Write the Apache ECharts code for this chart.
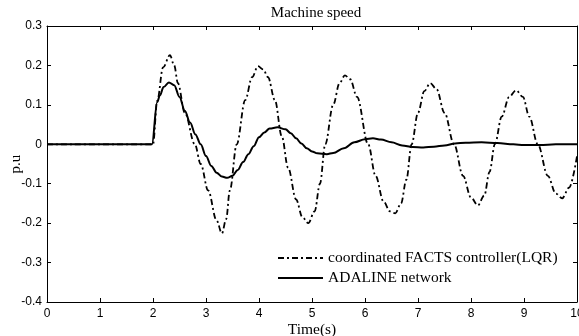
<!DOCTYPE html>
<html>
<head>
<meta charset="utf-8">
<script src="https://cdn.jsdelivr.net/npm/echarts@6/dist/echarts.min.js"></script>
<style>
  html, body { margin: 0; padding: 0; background: #fff; }
  #main { width: 579px; height: 336px; }
</style>
</head>
<body>
<div id="main"></div>
<script>
var titleText = 'Machine speed';
var xName = 'Time(s)';
var yName = 'p.u';
var lqrName = 'coordinated FACTS controller(LQR)';
var adalineName = 'ADALINE network';

// 协调FACTS控制器(LQR) [t, 转速偏差]
var lqrT = [0, 2.0, 2.08, 2.19, 2.32, 2.4, 2.47, 2.6, 2.79, 2.9, 3.04, 3.2, 3.3, 3.38, 3.45, 3.58, 3.74, 3.87, 3.98, 4.08, 4.17, 4.3, 4.43,
  4.55, 4.7, 4.82, 4.93, 5.05, 5.15, 5.25, 5.4, 5.52, 5.62, 5.72, 5.85, 6.06, 6.2, 6.35, 6.47, 6.57, 6.68, 6.78, 6.88, 7.0, 7.12, 7.23, 7.35,
  7.5, 7.68, 7.85, 8.0, 8.13, 8.25, 8.35, 8.45, 8.58, 8.72, 8.85, 8.98, 9.1, 9.26, 9.45, 9.6, 9.72, 9.85, 10.0];
var lqrV = [0, 0, 0.11, 0.195, 0.226, 0.2, 0.155, 0.08, 0, -0.05, -0.117, -0.193, -0.226, -0.19, -0.117, 0, 0.112, 0.17, 0.198, 0.19, 0.17, 0.112, 0.02,
  -0.06, -0.14, -0.185, -0.2, -0.17, -0.1, 0, 0.1, 0.155, 0.175, 0.165, 0.12, 0, -0.08, -0.145, -0.17, -0.175, -0.15, -0.09, 0, 0.08, 0.135, 0.155, 0.14,
  0.08, 0, -0.08, -0.135, -0.155, -0.13, -0.07, 0, 0.07, 0.12, 0.137, 0.12, 0.07, 0, -0.08, -0.125, -0.137, -0.11, -0.03];

// ADALINE网络
var adaT = [0, 1.98, 2.08, 2.13, 2.2, 2.3, 2.4, 2.5, 2.6, 2.7, 2.8, 2.9, 3.0, 3.1, 3.2, 3.3, 3.4, 3.5, 3.6, 3.7, 3.8, 3.9, 4.0, 4.1, 4.2, 4.35,
  4.5, 4.6, 4.7, 4.8, 4.9, 5.0, 5.1, 5.28, 5.4, 5.6, 5.8, 6.0, 6.15, 6.3, 6.5, 6.7, 6.9, 7.1, 7.3, 7.5, 7.7, 7.9, 8.2, 8.5, 8.8, 9.0, 9.3, 9.6, 10.0];
var adaV = [0, 0, 0.107, 0.124, 0.145, 0.157, 0.15, 0.12, 0.085, 0.055, 0.025, 0, -0.03, -0.055, -0.072, -0.082, -0.085, -0.08, -0.065, -0.045, -0.025, -0.005, 0.018, 0.03, 0.04, 0.043,
  0.038, 0.028, 0.015, 0.002, -0.01, -0.018, -0.023, -0.025, -0.022, -0.01, 0.005, 0.013, 0.015, 0.012, 0.005, -0.003, -0.007, -0.008, -0.006, -0.003, 0.002, 0.004, 0.005, 0.003, 0, -0.002, -0.002, 0, 0];

var yTicks = [-0.4, -0.3, -0.2, -0.1, 0, 0.1, 0.2, 0.3];
var xTicks = [0, 1, 2, 3, 4, 5, 6, 7, 8, 9, 10];

function pairs(t, v) {
  var out = [];
  for (var i = 0; i < t.length; i++) out.push([t[i], v[i]]);
  return out;
}

var myChart = echarts.init(document.getElementById('main'));

var serif = '"Liberation Serif", "Times New Roman", serif';
var sans = '"Liberation Sans", Arial, sans-serif';
var axisLine = { show: true, onZero: false, lineStyle: { color: '#000', width: 1 } };
var tickIn = { show: true, inside: true, length: 4, lineStyle: { color: '#000' } };

var option = {
  backgroundColor: '#fff',
  animation: false,
  title: {
    text: titleText,
    left: 311, top: 1, textAlign: 'center',
    textStyle: { fontFamily: serif, fontSize: 15, fontWeight: 'normal', color: '#000' }
  },
  legend: {
    orient: 'vertical',
    left: 272, top: 245,
    itemWidth: 45, itemHeight: 14, itemGap: 4,
    itemStyle: { opacity: 0 },
    textStyle: { fontFamily: serif, fontSize: 15.5, color: '#000' },
    data: [lqrName, adalineName]
  },
  grid: { left: 47, right: 2, top: 26, bottom: 34, containLabel: false, outerBoundsMode: 'none' },
  xAxis: [{
    type: 'value', min: xTicks[0], max: xTicks[xTicks.length - 1], interval: 1,
    name: xName, nameLocation: 'middle', nameGap: 20, nameMoveOverlap: false,
    nameTextStyle: { fontFamily: serif, fontSize: 15.5, color: '#000' },
    axisLine: axisLine, axisTick: tickIn, splitLine: { show: false },
    axisLabel: { fontFamily: sans, fontSize: 12, color: '#000', margin: 6 }
  }, {
    type: 'value', position: 'top', min: xTicks[0], max: xTicks[xTicks.length - 1], interval: 1,
    axisLine: axisLine, axisTick: tickIn, splitLine: { show: false }, axisLabel: { show: false }
  }],
  yAxis: [{
    type: 'value', min: yTicks[0], max: yTicks[yTicks.length - 1], interval: 0.1,
    name: yName, nameLocation: 'middle', nameGap: 23, nameRotate: 90, nameMoveOverlap: false,
    nameTextStyle: { fontFamily: serif, fontSize: 15, color: '#000' },
    axisLine: axisLine, axisTick: tickIn, splitLine: { show: false },
    axisLabel: { fontFamily: sans, fontSize: 12, color: '#000', margin: 5 }
  }, {
    type: 'value', position: 'right', min: yTicks[0], max: yTicks[yTicks.length - 1], interval: 0.1,
    axisLine: axisLine, axisTick: tickIn, splitLine: { show: false }, axisLabel: { show: false }
  }],
  series: [{
    name: lqrName, type: 'line', showSymbol: false, symbol: 'none',
    smooth: 0.35, smoothMonotone: 'x',
    lineStyle: { color: '#000', width: 1.8, type: [6, 3, 2, 3] },
    itemStyle: { color: '#000' },
    data: pairs(lqrT, lqrV)
  }, {
    name: adalineName, type: 'line', showSymbol: false, symbol: 'none',
    smooth: 0.35, smoothMonotone: 'x',
    lineStyle: { color: '#000', width: 2 },
    itemStyle: { color: '#000' },
    data: pairs(adaT, adaV)
  }]
};
myChart.setOption(option);
</script>
</body>
</html>
